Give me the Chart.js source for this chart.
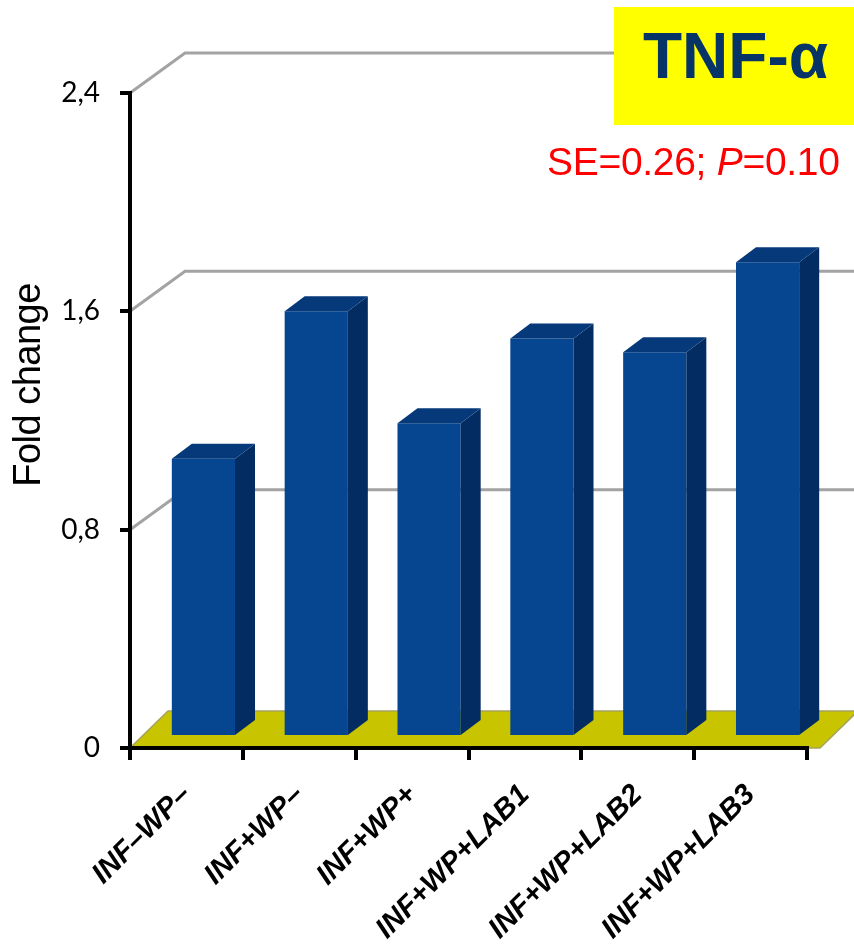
<!DOCTYPE html>
<html>
<head>
<meta charset="utf-8">
<script src="https://cdn.jsdelivr.net/npm/chart.js@4.4.1/dist/chart.umd.min.js"></script>
<style>
  html, body { margin: 0; padding: 0; background: #fff; }
  #wrap { position: relative; width: 854px; height: 948px; overflow: hidden; }
  #c { position: absolute; left: 0; top: 0; }
  #title {
    position: absolute; left: 614px; top: 7px; width: 240px; height: 118px;
    background: #ffff00;
  }
  #title span {
    position: absolute; left: 3px; right: 0; top: 17px; text-align: center;
    font: bold 64px/64px "Liberation Sans", Arial, sans-serif; color: #073467;
    white-space: nowrap;
  }
  #stat {
    position: absolute; left: 547px; top: 142px; white-space: nowrap;
    font: 39px/39px "Liberation Sans", Arial, sans-serif; color: #ff0000;
    letter-spacing: -0.3px;
  }
</style>
</head>
<body>
<div id="wrap">
  <canvas id="c" width="854" height="948"></canvas>
  <div id="title"><span>TNF-α</span></div>
  <div id="stat">SE=0.26; <i>P</i>=0.10</div>
</div>
<script>
// Treatment groups and TNF-α fold change
const categories = ['INF–WP–', 'INF+WP–', 'INF+WP+', 'INF+WP+LAB1', 'INF+WP+LAB2', 'INF+WP+LAB3'];
const foldChange = [1.02, 1.56, 1.15, 1.46, 1.41, 1.74];
const yTickValues = [0, 0.8, 1.6, 2.4];
const yTickLabels = ['0', '0,8', '1,6', '2,4'];

// Pseudo-3D geometry (pixels)
const WALL_DEPTH = { dx: 55, dy: -40 };   // back wall offset for gridlines
const FLOOR_DEPTH = { dx: 38, dy: -37 };  // floor plate depth
const BAR_SHIFT = { dx: 17, dy: -11 };    // bar front face sits partway into the floor
const BAR_DEPTH = { dx: 20, dy: -15 };    // bar thickness

const COLORS = {
  front: '#06458f',
  side: '#032c62',
  top: '#05397a',
  floor: '#c8c400',
  floorEdge: '#a6a35a',
  grid: '#a3a3a3'
};

function poly(ctx, pts, fill, stroke, lw) {
  ctx.beginPath();
  ctx.moveTo(pts[0][0], pts[0][1]);
  for (let i = 1; i < pts.length; i++) ctx.lineTo(pts[i][0], pts[i][1]);
  ctx.closePath();
  if (fill) { ctx.fillStyle = fill; ctx.fill(); }
  if (stroke) { ctx.strokeStyle = stroke; ctx.lineWidth = lw || 1; ctx.stroke(); }
}

const depth3d = {
  id: 'depth3d',
  beforeDraw(chart) {
    const { ctx, chartArea } = chart;
    const ys = chart.scales.y;
    const y0 = ys.getPixelForValue(0);
    ctx.save();
    // floor plate
    poly(ctx, [
      [chartArea.left, y0],
      [chartArea.right + 13, y0],
      [chartArea.right + 13 + FLOOR_DEPTH.dx, y0 + FLOOR_DEPTH.dy],
      [chartArea.left + FLOOR_DEPTH.dx, y0 + FLOOR_DEPTH.dy]
    ], COLORS.floor, COLORS.floorEdge, 1.5);
    // back wall gridlines with their slanted side-wall segments
    ctx.strokeStyle = COLORS.grid;
    ctx.lineWidth = 3;
    ctx.lineJoin = 'miter';
    yTickValues.forEach(v => {
      if (v === 0) return;
      const y = ys.getPixelForValue(v);
      ctx.beginPath();
      ctx.moveTo(chartArea.left, y);
      ctx.lineTo(chartArea.left + WALL_DEPTH.dx, y + WALL_DEPTH.dy);
      ctx.lineTo(chart.width + 10, y + WALL_DEPTH.dy);
      ctx.stroke();
    });
    ctx.restore();
  },
  beforeDatasetDraw(chart) {
    chart.ctx.save();
    chart.ctx.translate(BAR_SHIFT.dx, BAR_SHIFT.dy);
  },
  afterDatasetDraw(chart, args) {
    const ctx = chart.ctx;
    ctx.restore();
    ctx.save();
    args.meta.data.forEach(el => {
      const { x, y, base, width } = el.getProps(['x', 'y', 'base', 'width'], true);
      const xL = x - width / 2 + BAR_SHIFT.dx;
      const xR = x + width / 2 + BAR_SHIFT.dx;
      const yT = y + BAR_SHIFT.dy;
      const yB = base + BAR_SHIFT.dy;
      poly(ctx, [[xR, yT], [xR + BAR_DEPTH.dx, yT + BAR_DEPTH.dy],
                 [xR + BAR_DEPTH.dx, yB + BAR_DEPTH.dy], [xR, yB]], COLORS.side);
      poly(ctx, [[xL, yT], [xL + BAR_DEPTH.dx, yT + BAR_DEPTH.dy],
                 [xR + BAR_DEPTH.dx, yT + BAR_DEPTH.dy], [xR, yT]], COLORS.top);
    });
    ctx.restore();
  },
  afterDraw(chart) {
    // vertical axis title
    const ctx = chart.ctx;
    ctx.save();
    ctx.translate(30, 385);
    ctx.rotate(-Math.PI / 2);
    ctx.font = '38px "Liberation Sans", Arial, sans-serif';
    if ('letterSpacing' in ctx) ctx.letterSpacing = '-0.5px';
    ctx.fillStyle = '#000';
    ctx.textAlign = 'center';
    ctx.textBaseline = 'middle';
    ctx.fillText('Fold change', 0, 0);
    ctx.restore();
  }
};

new Chart(document.getElementById('c'), {
  type: 'bar',
  data: {
    labels: categories,
    datasets: [{
      data: foldChange,
      backgroundColor: COLORS.front,
      borderWidth: 0,
      categoryPercentage: 1,
      barPercentage: 0.56
    }]
  },
  options: {
    responsive: false,
    animation: false,
    events: [],
    layout: { padding: { top: 93, right: 47, left: 0, bottom: 0 } },
    plugins: { legend: { display: false }, tooltip: { enabled: false }, title: { display: false } },
    scales: {
      x: {
        afterFit(scale) { scale.height = 200; },
        grid: { display: true, drawOnChartArea: false, drawTicks: true, tickLength: 12, color: '#000', lineWidth: 4, offset: true },
        border: { display: true, color: '#000', width: 4 },
        ticks: {
          autoSkip: false, minRotation: 45, maxRotation: 45, padding: 18, color: '#000',
          font: { family: '"Liberation Sans", Arial, sans-serif', size: 29, weight: 'bold', style: 'italic' }
        }
      },
      y: {
        min: 0, max: 2.4,
        afterFit(scale) { scale.width = 130; },
        afterBuildTicks(scale) { scale.ticks = yTickValues.map(v => ({ value: v })); },
        grid: { display: true, drawOnChartArea: false, drawTicks: true, tickLength: 10, color: '#000', lineWidth: 4 },
        border: { display: true, color: '#000', width: 4 },
        ticks: {
          padding: 20, color: '#000',
          font: { family: 'Lato, "Open Sans", sans-serif', size: 28 },
          callback: (v, i) => yTickLabels[i]
        }
      }
    }
  },
  plugins: [depth3d]
});
</script>
</body>
</html>
